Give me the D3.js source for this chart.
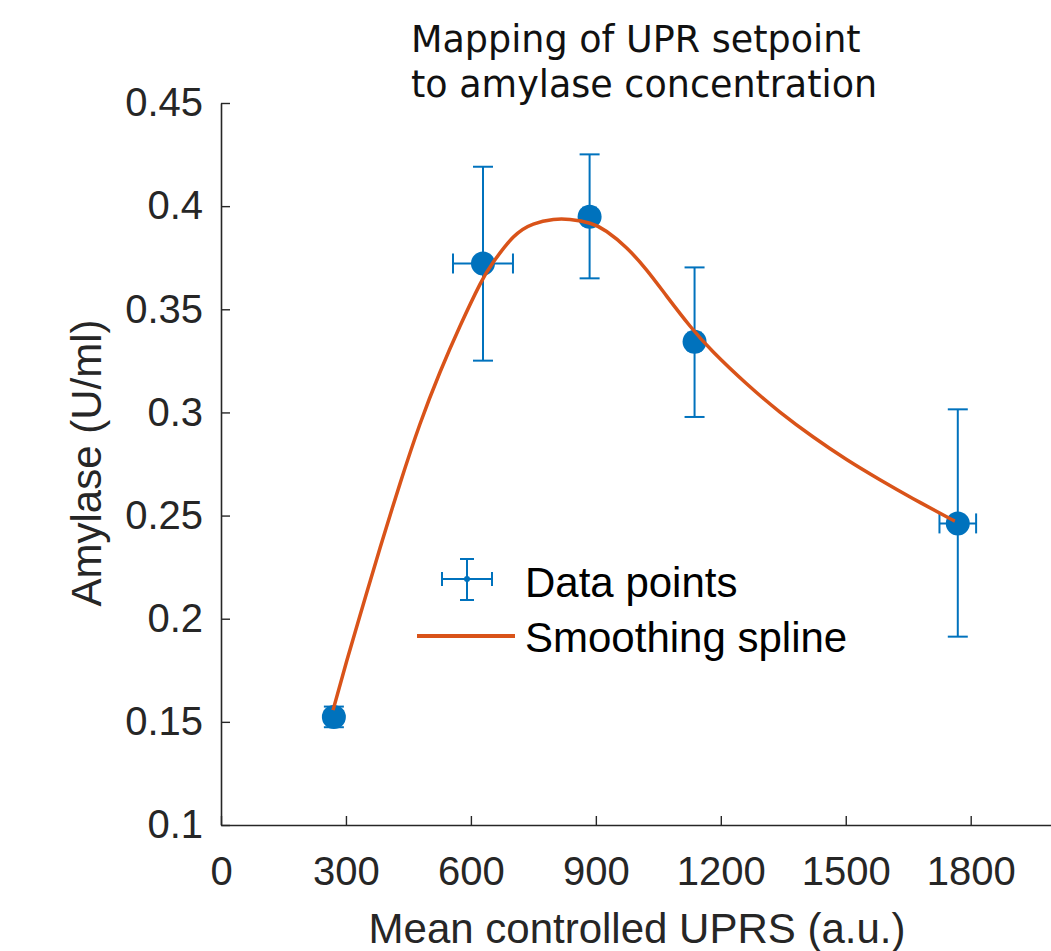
<!DOCTYPE html>
<html>
<head>
<meta charset="utf-8">
<script src="https://cdn.jsdelivr.net/npm/d3@7"></script>
<style>
  body { margin: 0; background: #fff; }
  svg { display: block; }
</style>
</head>
<body>
<svg id="chart"></svg>
<script>

// measured points with error bars
var pointX = [271, 629, 885, 1137, 1769];
var pointY = [0.1524, 0.3722, 0.3949, 0.3343, 0.2462];
var errXLow = [10, 72, 15, 15, 44];
var errXHigh = [10, 72, 15, 15, 44];
var errYLow = [0.005, 0.0471, 0.0299, 0.0365, 0.0549];
var errYHigh = [0.005, 0.0469, 0.0302, 0.0360, 0.0553];

// smoothing spline
var splineX = [269, 302, 341, 382, 430, 478, 526, 574, 622, 654, 702, 750, 798, 838, 886, 926, 974, 1022, 1070, 1126, 1182, 1262, 1342, 1422, 1502, 1582, 1662, 1742, 1762];
var splineY = [0.1557, 0.1796, 0.2065, 0.2344, 0.2656, 0.2945, 0.3196, 0.3419, 0.3622, 0.3729, 0.3850, 0.3913, 0.3935, 0.3935, 0.3917, 0.3877, 0.3797, 0.3690, 0.3564, 0.3419, 0.3293, 0.3139, 0.3002, 0.2881, 0.2772, 0.2674, 0.2582, 0.2494, 0.2473];

var xTicks = [0, 300, 600, 900, 1200, 1500, 1800];
var yTicks = [0.1, 0.15, 0.2, 0.25, 0.3, 0.35, 0.4, 0.45];

var titleLines = ["Mapping of UPR setpoint", "to amylase concentration"];
var legendLabels = ["Data points", "Smoothing spline"];

var blue = "#0072BD", orange = "#D95319", axisCol = "#262626";

var svg = d3.select("#chart")
    .attr("width", 1051)
    .attr("height", 951);

var x = d3.scaleLinear()
    .domain([0, 2000])
    .range([221, 1054]);

var y = d3.scaleLinear()
    .domain([0.1, 0.45])
    .range([825, 103]);

var xAxis = svg.append("g")
    .attr("transform", "translate(0,825)")
    .call(d3.axisBottom(x).tickValues(xTicks).tickFormat(d3.format("d"))
      .tickSizeInner(-9).tickSizeOuter(0).tickPadding(32));

var yAxis = svg.append("g")
    .attr("transform", "translate(221,0)")
    .call(d3.axisLeft(y).tickValues(yTicks).tickFormat(function(d) { return d; })
      .tickSizeInner(-9).tickSizeOuter(0).tickPadding(18));

[xAxis, yAxis].forEach(function(g) {
  g.select(".domain").attr("stroke", axisCol).attr("stroke-width", 1.6);
  g.selectAll(".tick line").attr("stroke", axisCol).attr("stroke-width", 1.4);
  g.selectAll(".tick text")
    .attr("fill", axisCol)
    .style("font-family", "'Liberation Sans', Arial, sans-serif")
    .style("font-size", "40px");
});

svg.append("text")
    .attr("transform", "translate(" + 101 + "," + 463 + ") rotate(-90)")
    .attr("text-anchor", "middle")
    .attr("fill", axisCol)
    .style("font-family", "'Liberation Sans', Arial, sans-serif")
    .style("font-size", "42px")
    .text("Amylase (U/ml)");

svg.append("text")
    .attr("x", 637)
    .attr("y", 943)
    .attr("text-anchor", "middle")
    .attr("fill", axisCol)
    .style("font-family", "'Liberation Sans', Arial, sans-serif")
    .style("font-size", "42px")
    .text("Mean controlled UPRS (a.u.)");

svg.selectAll(".title")
    .data(titleLines)
  .enter().append("text")
    .attr("class", "title")
    .attr("x", 411)
    .attr("y", function(d, i) { return 52 + i * 45; })
    .attr("fill", "#111")
    .style("font-family", "'DejaVu Sans', Verdana, sans-serif")
    .style("font-size", "36.5px")
    .text(function(d) { return d; });

var pts = pointX.map(function(d, i) {
  return {x: d, y: pointY[i], xl: errXLow[i], xh: errXHigh[i], yl: errYLow[i], yh: errYHigh[i]};
});

var eb = svg.append("g")
    .attr("stroke", blue)
    .attr("stroke-width", 2);

pts.forEach(function(p) {
  var cx = x(p.x), cy = y(p.y);
  var top = y(p.y + p.yh), bot = y(p.y - p.yl);
  var left = x(p.x - p.xl), right = x(p.x + p.xh);
  eb.append("line").attr("x1", cx).attr("x2", cx).attr("y1", top).attr("y2", bot);
  eb.append("line").attr("x1", cx - 10).attr("x2", cx + 10).attr("y1", top).attr("y2", top);
  eb.append("line").attr("x1", cx - 10).attr("x2", cx + 10).attr("y1", bot).attr("y2", bot);
  eb.append("line").attr("x1", left).attr("x2", right).attr("y1", cy).attr("y2", cy);
  eb.append("line").attr("x1", left).attr("x2", left).attr("y1", cy - 10).attr("y2", cy + 10);
  eb.append("line").attr("x1", right).attr("x2", right).attr("y1", cy - 10).attr("y2", cy + 10);
});

svg.selectAll(".dot")
    .data(pts)
  .enter().append("circle")
    .attr("class", "dot")
    .attr("cx", function(d) { return x(d.x); })
    .attr("cy", function(d) { return y(d.y); })
    .attr("r", 12)
    .attr("fill", blue);

var line = d3.line()
    .x(function(d) { return x(d[0]); })
    .y(function(d) { return y(d[1]); })
    .curve(d3.curveNatural);

svg.append("path")
    .datum(splineX.map(function(d, i) { return [d, splineY[i]]; }))
    .attr("fill", "none")
    .attr("stroke", orange)
    .attr("stroke-width", 3.5)
    .attr("d", line);

// legend
var lg = svg.append("g");
lg.append("rect")
    .attr("x", 410).attr("y", 545).attr("width", 460).attr("height", 125)
    .attr("fill", "#fff");

var sym = lg.append("g").attr("stroke", blue).attr("stroke-width", 2);
sym.append("line").attr("x1", 442).attr("x2", 492).attr("y1", 579).attr("y2", 579);
sym.append("line").attr("x1", 442).attr("x2", 442).attr("y1", 572).attr("y2", 586);
sym.append("line").attr("x1", 492).attr("x2", 492).attr("y1", 572).attr("y2", 586);
sym.append("line").attr("x1", 467).attr("x2", 467).attr("y1", 559).attr("y2", 600);
sym.append("line").attr("x1", 460).attr("x2", 474).attr("y1", 559).attr("y2", 559);
sym.append("line").attr("x1", 460).attr("x2", 474).attr("y1", 600).attr("y2", 600);
lg.append("circle").attr("cx", 467).attr("cy", 579).attr("r", 3).attr("fill", blue);

lg.append("line")
    .attr("x1", 417).attr("x2", 515).attr("y1", 636).attr("y2", 636)
    .attr("stroke", orange).attr("stroke-width", 4);

lg.selectAll(".lgtext")
    .data(legendLabels)
  .enter().append("text")
    .attr("class", "lgtext")
    .attr("x", 525)
    .attr("y", function(d, i) { return 597 + i * 55; })
    .attr("fill", "#000")
    .style("font-family", "'Liberation Sans', Arial, sans-serif")
    .style("font-size", "42px")
    .text(function(d) { return d; });

</script>
</body>
</html>
